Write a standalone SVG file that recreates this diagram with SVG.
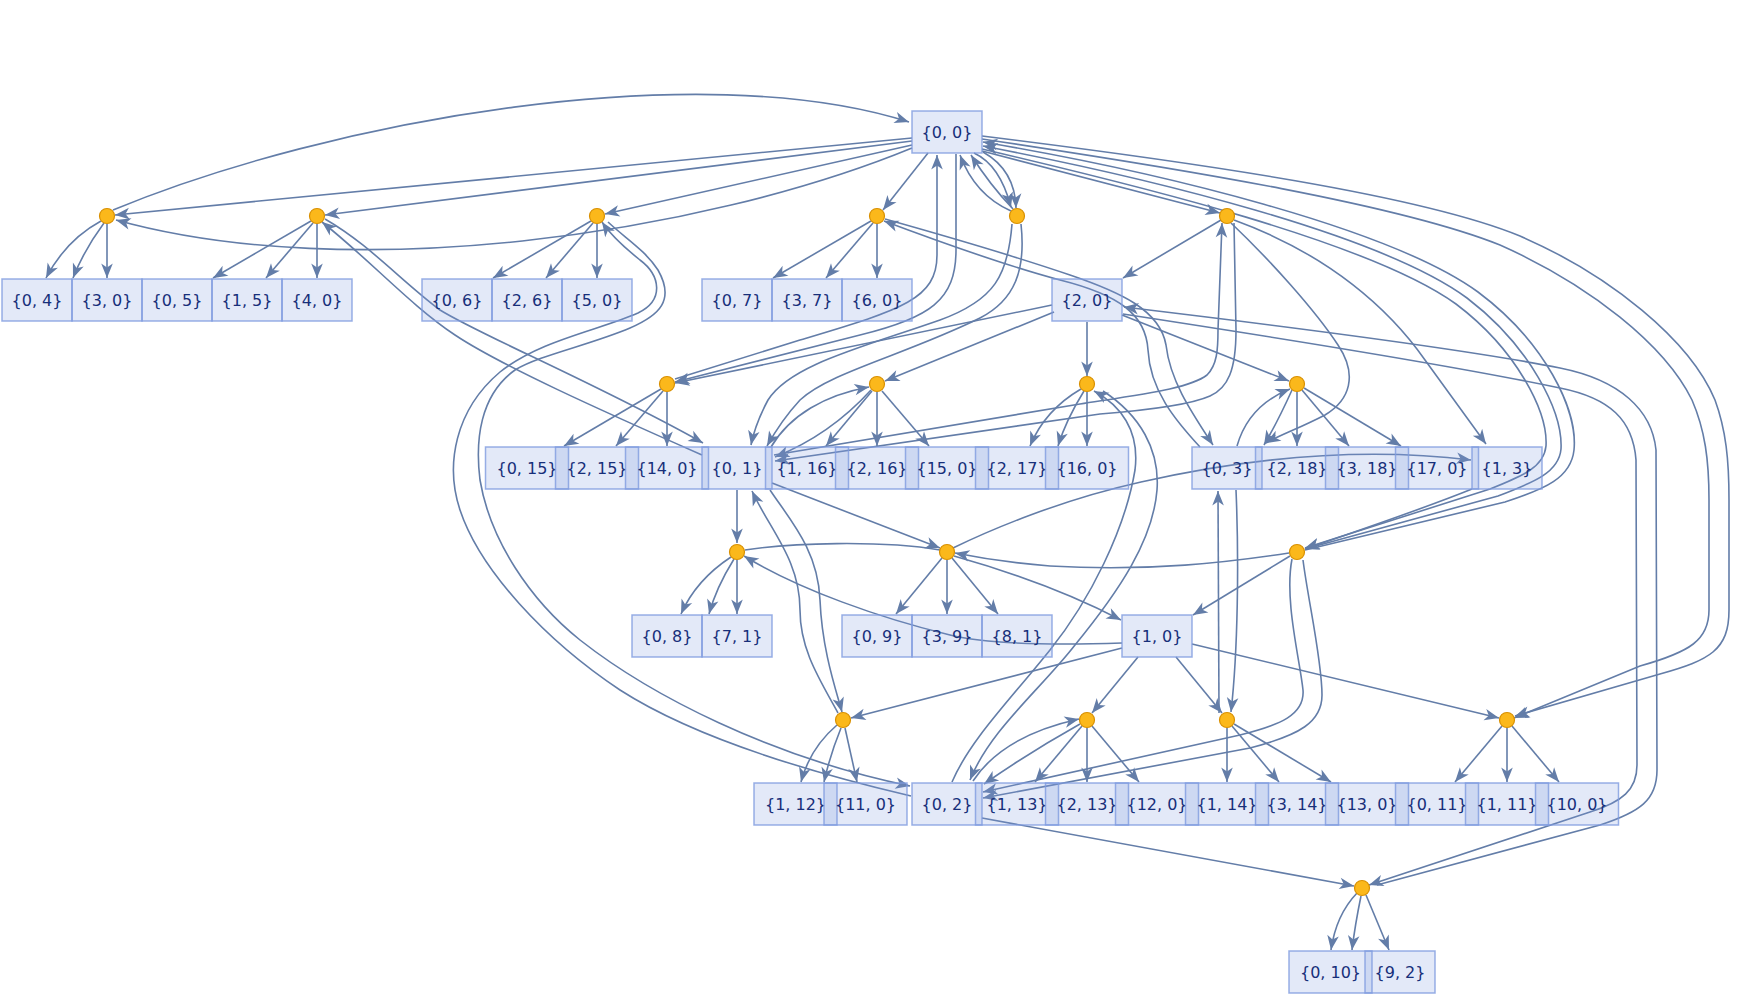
<svg xmlns="http://www.w3.org/2000/svg" width="1764" height="1006" viewBox="0 0 1764 1006">
<defs>
<style>
.e{fill:none;stroke:#637da8;stroke-width:1.6;marker-end:url(#a)}
.r{fill:none;stroke:#637da8;stroke-width:1.6;marker-start:url(#a)}
.n{fill:none;stroke:#637da8;stroke-width:1.6}
.b{fill:rgb(128,155,224);fill-opacity:0.22;stroke:#7f9be0;stroke-opacity:0.8;stroke-width:1.5}
.t{font-family:'DejaVu Sans','Noto Sans',sans-serif;font-size:16px;fill:#172f7a;text-anchor:middle}
.d{fill:#fbb81b;stroke:#d99000;stroke-width:1.2}
</style>
<marker id="a" markerUnits="userSpaceOnUse" markerWidth="18" markerHeight="14" viewBox="-16 -7 18 14" refX="0" refY="0" orient="auto-start-reverse" overflow="visible">
<path d="M0,0 L-14.5,-5.8 L-10.5,0 L-14.5,5.8 Z" fill="#637da8"/>
</marker>
</defs>
<rect width="1764" height="1006" fill="#ffffff"/>
<g id="edges">
<path class="e" d="M113,210 C330,120 700,55 909,122"/>
<path class="e" d="M912,138 L115,215"/>
<path class="e" d="M912,148 C700,235 350,285 116,220"/>
<path class="e" d="M912,141 L325,215"/>
<path class="e" d="M912,145 L605,214"/>
<path class="e" d="M928,153 L883,210"/>
<path class="e" d="M1011,211 Q975,195 960,155"/>
<path class="e" d="M1013,209 Q990,185 971,155"/>
<path class="e" d="M974,153 Q1000,165 1011,207"/>
<path class="e" d="M983,152 Q1015,170 1016,208"/>
<path class="e" d="M982,151 L1220,213"/>
<path class="e" d="M982,136 C1200,163 1420,195 1520,236 C1610,275 1690,340 1715,400 C1726,430 1729,460 1729,500 L1729,610 C1729,650 1710,660 1660,674 L1515,716"/>
<path class="e" d="M982,139 C1190,170 1400,205 1500,245 C1590,285 1665,345 1692,400 C1705,430 1709,460 1709,500 L1709,610 C1709,640 1690,652 1640,666 L1514,718"/>
<path class="r" d="M983,142 C1160,172 1390,228 1478,292 C1545,342 1578,410 1574,450 C1571,478 1545,489 1505,502 L1305,550"/>
<path class="r" d="M983,146 C1150,178 1380,234 1467,298 C1530,346 1563,412 1561,449 C1559,472 1535,482 1498,496 L1305,549"/>
<path class="e" d="M982,149 C1140,186 1370,242 1456,304 C1517,350 1548,412 1546,446 C1544,467 1523,476 1490,489 L1305,548"/>
<path class="e" d="M956,154 L956,250 C956,300 930,318 860,335 L675,382"/>
<path class="e" d="M675,379 L800,340 C900,310 937,300 937,255 L937,155"/>
<path class="e" d="M1052,305 L675,383"/>
<path class="e" d="M1054,312 L885,381"/>
<path class="e" d="M1087,322 L1087,376"/>
<path class="e" d="M1122,315 L1289,381"/>
<path class="r" d="M1124,307 C1300,328 1480,352 1560,368 C1620,380 1652,410 1656,450 L1657,770 C1657,800 1640,812 1600,825 L1377,885"/>
<path class="e" d="M1123,314 C1280,338 1450,365 1560,388 C1610,398 1633,420 1636,460 L1637,765 C1637,790 1622,802 1590,812 L1369,885"/>
<path class="e" d="M982,818 L1354,886"/>
<path class="e" d="M101,221 Q66,240 46,278"/>
<path class="e" d="M104,223 Q84,250 73,278"/>
<path class="e" d="M107,224 L107,278"/>
<path class="e" d="M311,221 L213,278"/>
<path class="e" d="M313,223 L266,278"/>
<path class="e" d="M317,224 L317,278"/>
<path class="e" d="M591,221 L493,278"/>
<path class="e" d="M593,223 L546,278"/>
<path class="e" d="M597,224 L597,278"/>
<path class="e" d="M871,221 L773,278"/>
<path class="e" d="M873,223 L826,278"/>
<path class="e" d="M877,224 L877,278"/>
<path class="e" d="M1221,220 L1123,278"/>
<path class="e" d="M1234,220 C1330,255 1390,310 1425,360 L1486,444"/>
<path class="e" d="M1231,223 C1270,260 1315,310 1338,345 C1358,375 1350,400 1325,415 C1300,428 1280,435 1266,443"/>
<path class="e" d="M774,455 L1080,404 C1150,393 1190,388 1207,375 C1217,365 1218,350 1218,330 L1222,223"/>
<path class="e" d="M1234,223 L1236,330 C1236,370 1228,388 1210,396 C1190,405 1150,410 1100,414 L775,461"/>
<path class="e" d="M1012,224 C1008,275 995,300 940,320 C860,348 790,365 768,400 C760,415 754,430 751,445"/>
<path class="e" d="M1021,224 C1026,270 1015,300 980,318 C905,355 830,372 800,400 C788,413 776,430 767,446"/>
<path class="e" d="M771,447 C790,415 825,395 869,387"/>
<path class="e" d="M871,390 Q830,435 775,457"/>
<path class="e" d="M872,391 L826,446"/>
<path class="e" d="M877,392 L877,446"/>
<path class="e" d="M882,391 L929,446"/>
<path class="e" d="M661,389 L564,446"/>
<path class="e" d="M663,391 L616,446"/>
<path class="e" d="M667,392 L667,446"/>
<path class="e" d="M702,455 C600,410 500,365 455,335 C410,305 370,260 322,222"/>
<path class="e" d="M325,219 C370,245 400,280 440,310 C480,335 600,385 703,443"/>
<path class="e" d="M911,796 C800,770 690,735 620,690 C545,640 480,570 460,510 C445,465 455,410 500,372 C540,340 600,330 638,313 C665,300 660,275 640,260 C625,248 610,234 602,222"/>
<path class="e" d="M608,222 C625,238 645,250 658,270 C675,300 660,315 630,328 C590,345 540,355 515,370 C480,395 475,440 480,480 C490,540 530,600 580,640 C650,695 770,757 910,786"/>
<path class="e" d="M1081,389 Q1045,410 1030,446"/>
<path class="e" d="M1084,391 Q1066,420 1058,446"/>
<path class="e" d="M1087,392 L1087,446"/>
<path class="e" d="M952,782 C970,740 1010,700 1050,650 C1090,600 1125,530 1135,470 C1140,430 1120,405 1094,391"/>
<path class="e" d="M1103,391 C1140,415 1160,450 1157,490 C1153,540 1120,590 1075,645 C1040,690 990,730 970,780"/>
<path class="e" d="M1080,724 Q1030,752 984,784"/>
<path class="e" d="M973,781 C990,755 1020,732 1079,719"/>
<path class="e" d="M1292,559 C1284,600 1300,660 1303,690 C1305,715 1280,725 1240,735 L983,792"/>
<path class="e" d="M1303,560 C1308,600 1322,660 1322,695 C1322,722 1300,735 1250,748 L983,798"/>
<path class="e" d="M1472,489 C1420,510 1360,530 1305,549"/>
<path class="e" d="M1290,556 L1193,615"/>
<path class="e" d="M1289,553 C1230,562 1150,572 1050,566 C1000,562 975,557 955,553"/>
<path class="e" d="M1122,643 C1060,645 990,645 950,635 C880,618 800,590 744,556"/>
<path class="n" d="M745,550 C790,543 880,540 940,550"/>
<path class="e" d="M953,548 C990,530 1060,500 1141,482 C1230,462 1350,445 1471,460"/>
<path class="e" d="M737,490 L737,543"/>
<path class="e" d="M772,483 L940,548"/>
<path class="e" d="M838,713 C820,680 800,650 800,610 C800,560 770,530 752,491"/>
<path class="e" d="M770,490 C790,520 818,550 820,600 C822,650 836,690 842,712"/>
<path class="e" d="M731,557 Q696,580 681,614"/>
<path class="e" d="M734,559 Q716,588 709,614"/>
<path class="e" d="M737,560 L737,614"/>
<path class="e" d="M942,558 L896,614"/>
<path class="e" d="M947,560 L947,614"/>
<path class="e" d="M952,558 L998,614"/>
<path class="e" d="M954,556 Q1050,583 1121,620"/>
<path class="e" d="M1122,648 L851,718"/>
<path class="e" d="M1138,657 L1092,713"/>
<path class="e" d="M1176,657 L1222,713"/>
<path class="e" d="M1192,644 L1499,718"/>
<path class="e" d="M1082,726 L1035,782"/>
<path class="e" d="M1087,728 L1087,782"/>
<path class="e" d="M1092,726 L1139,782"/>
<path class="e" d="M1227,728 L1227,782"/>
<path class="e" d="M1232,726 L1279,782"/>
<path class="e" d="M1234,724 L1331,782"/>
<path class="e" d="M1219,713 L1218,491"/>
<path class="e" d="M1236,490 C1239,560 1238,650 1231,712"/>
<path class="e" d="M1502,726 L1455,782"/>
<path class="e" d="M1507,728 L1507,782"/>
<path class="e" d="M1512,726 L1559,782"/>
<path class="e" d="M837,725 Q810,748 801,782"/>
<path class="e" d="M841,728 Q830,755 824,782"/>
<path class="e" d="M845,728 L857,782"/>
<path class="e" d="M1357,893 Q1336,915 1331,950"/>
<path class="e" d="M1361,896 Q1355,925 1352,950"/>
<path class="e" d="M1366,895 L1389,950"/>
<path class="e" d="M1237,446 C1245,418 1262,400 1290,389"/>
<path class="e" d="M1292,390 C1283,410 1274,428 1264,445"/>
<path class="e" d="M1297,392 L1297,446"/>
<path class="e" d="M1302,390 L1349,446"/>
<path class="e" d="M1304,388 L1401,446"/>
<path class="e" d="M885,219 C960,240 1020,258 1070,275 C1120,292 1160,310 1166,345 C1170,380 1190,410 1213,445"/>
<path class="e" d="M1200,447 C1175,420 1150,390 1148,350 C1146,315 1120,295 1060,280 C1000,264 940,242 884,221"/>
</g>
<g id="n00"><rect class="b" x="912" y="111" width="70" height="42"/><text class="t" x="947" y="138">{0, 0}</text></g>
<g id="n04"><rect class="b" x="2" y="279" width="70" height="42"/><text class="t" x="37" y="306">{0, 4}</text></g>
<g id="n30"><rect class="b" x="72" y="279" width="70" height="42"/><text class="t" x="107" y="306">{3, 0}</text></g>
<g id="n05"><rect class="b" x="142" y="279" width="70" height="42"/><text class="t" x="177" y="306">{0, 5}</text></g>
<g id="n15"><rect class="b" x="212" y="279" width="70" height="42"/><text class="t" x="247" y="306">{1, 5}</text></g>
<g id="n40"><rect class="b" x="282" y="279" width="70" height="42"/><text class="t" x="317" y="306">{4, 0}</text></g>
<g id="n06"><rect class="b" x="422" y="279" width="70" height="42"/><text class="t" x="457" y="306">{0, 6}</text></g>
<g id="n26"><rect class="b" x="492" y="279" width="70" height="42"/><text class="t" x="527" y="306">{2, 6}</text></g>
<g id="n50"><rect class="b" x="562" y="279" width="70" height="42"/><text class="t" x="597" y="306">{5, 0}</text></g>
<g id="n07"><rect class="b" x="702" y="279" width="70" height="42"/><text class="t" x="737" y="306">{0, 7}</text></g>
<g id="n37"><rect class="b" x="772" y="279" width="70" height="42"/><text class="t" x="807" y="306">{3, 7}</text></g>
<g id="n60"><rect class="b" x="842" y="279" width="70" height="42"/><text class="t" x="877" y="306">{6, 0}</text></g>
<g id="n20"><rect class="b" x="1052" y="279" width="70" height="42"/><text class="t" x="1087" y="306">{2, 0}</text></g>
<g id="n015"><rect class="b" x="485.5" y="447" width="83" height="42"/><text class="t" x="527" y="474">{0, 15}</text></g>
<g id="n215"><rect class="b" x="555.5" y="447" width="83" height="42"/><text class="t" x="597" y="474">{2, 15}</text></g>
<g id="n140"><rect class="b" x="625.5" y="447" width="83" height="42"/><text class="t" x="667" y="474">{14, 0}</text></g>
<g id="n01"><rect class="b" x="702" y="447" width="70" height="42"/><text class="t" x="737" y="474">{0, 1}</text></g>
<g id="n116"><rect class="b" x="765.5" y="447" width="83" height="42"/><text class="t" x="807" y="474">{1, 16}</text></g>
<g id="n216"><rect class="b" x="835.5" y="447" width="83" height="42"/><text class="t" x="877" y="474">{2, 16}</text></g>
<g id="n150"><rect class="b" x="905.5" y="447" width="83" height="42"/><text class="t" x="947" y="474">{15, 0}</text></g>
<g id="n217"><rect class="b" x="975.5" y="447" width="83" height="42"/><text class="t" x="1017" y="474">{2, 17}</text></g>
<g id="n160"><rect class="b" x="1045.5" y="447" width="83" height="42"/><text class="t" x="1087" y="474">{16, 0}</text></g>
<g id="n03"><rect class="b" x="1192" y="447" width="70" height="42"/><text class="t" x="1227" y="474">{0, 3}</text></g>
<g id="n218"><rect class="b" x="1255.5" y="447" width="83" height="42"/><text class="t" x="1297" y="474">{2, 18}</text></g>
<g id="n318"><rect class="b" x="1325.5" y="447" width="83" height="42"/><text class="t" x="1367" y="474">{3, 18}</text></g>
<g id="n170"><rect class="b" x="1395.5" y="447" width="83" height="42"/><text class="t" x="1437" y="474">{17, 0}</text></g>
<g id="n13"><rect class="b" x="1472" y="447" width="70" height="42"/><text class="t" x="1507" y="474">{1, 3}</text></g>
<g id="n08"><rect class="b" x="632" y="615" width="70" height="42"/><text class="t" x="667" y="642">{0, 8}</text></g>
<g id="n71"><rect class="b" x="702" y="615" width="70" height="42"/><text class="t" x="737" y="642">{7, 1}</text></g>
<g id="n09"><rect class="b" x="842" y="615" width="70" height="42"/><text class="t" x="877" y="642">{0, 9}</text></g>
<g id="n39"><rect class="b" x="912" y="615" width="70" height="42"/><text class="t" x="947" y="642">{3, 9}</text></g>
<g id="n81"><rect class="b" x="982" y="615" width="70" height="42"/><text class="t" x="1017" y="642">{8, 1}</text></g>
<g id="n10"><rect class="b" x="1122" y="615" width="70" height="42"/><text class="t" x="1157" y="642">{1, 0}</text></g>
<g id="n112"><rect class="b" x="754" y="783" width="83" height="42"/><text class="t" x="795.5" y="810">{1, 12}</text></g>
<g id="n110"><rect class="b" x="824" y="783" width="83" height="42"/><text class="t" x="865.5" y="810">{11, 0}</text></g>
<g id="n02"><rect class="b" x="912" y="783" width="70" height="42"/><text class="t" x="947" y="810">{0, 2}</text></g>
<g id="n113"><rect class="b" x="975.5" y="783" width="83" height="42"/><text class="t" x="1017" y="810">{1, 13}</text></g>
<g id="n213"><rect class="b" x="1045.5" y="783" width="83" height="42"/><text class="t" x="1087" y="810">{2, 13}</text></g>
<g id="n120"><rect class="b" x="1115.5" y="783" width="83" height="42"/><text class="t" x="1157" y="810">{12, 0}</text></g>
<g id="n114"><rect class="b" x="1185.5" y="783" width="83" height="42"/><text class="t" x="1227" y="810">{1, 14}</text></g>
<g id="n314"><rect class="b" x="1255.5" y="783" width="83" height="42"/><text class="t" x="1297" y="810">{3, 14}</text></g>
<g id="n130"><rect class="b" x="1325.5" y="783" width="83" height="42"/><text class="t" x="1367" y="810">{13, 0}</text></g>
<g id="n011"><rect class="b" x="1395.5" y="783" width="83" height="42"/><text class="t" x="1437" y="810">{0, 11}</text></g>
<g id="n111"><rect class="b" x="1465.5" y="783" width="83" height="42"/><text class="t" x="1507" y="810">{1, 11}</text></g>
<g id="n100"><rect class="b" x="1535.5" y="783" width="83" height="42"/><text class="t" x="1577" y="810">{10, 0}</text></g>
<g id="n010"><rect class="b" x="1289" y="951" width="83" height="42"/><text class="t" x="1330.5" y="978">{0, 10}</text></g>
<g id="n92"><rect class="b" x="1365" y="951" width="70" height="42"/><text class="t" x="1400" y="978">{9, 2}</text></g>
<g id="evA"><circle class="d" cx="107" cy="216" r="7.5"/></g>
<g id="evB"><circle class="d" cx="317" cy="216" r="7.5"/></g>
<g id="evC"><circle class="d" cx="597" cy="216" r="7.5"/></g>
<g id="evD"><circle class="d" cx="877" cy="216" r="7.5"/></g>
<g id="evE"><circle class="d" cx="1017" cy="216" r="7.5"/></g>
<g id="evF"><circle class="d" cx="1227" cy="216" r="7.5"/></g>
<g id="evG"><circle class="d" cx="667" cy="384" r="7.5"/></g>
<g id="evH"><circle class="d" cx="877" cy="384" r="7.5"/></g>
<g id="evI"><circle class="d" cx="1087" cy="384" r="7.5"/></g>
<g id="evJ"><circle class="d" cx="1297" cy="384" r="7.5"/></g>
<g id="evK"><circle class="d" cx="737" cy="552" r="7.5"/></g>
<g id="evL"><circle class="d" cx="947" cy="552" r="7.5"/></g>
<g id="evM"><circle class="d" cx="1297" cy="552" r="7.5"/></g>
<g id="evN"><circle class="d" cx="843" cy="720" r="7.5"/></g>
<g id="evO"><circle class="d" cx="1087" cy="720" r="7.5"/></g>
<g id="evP"><circle class="d" cx="1227" cy="720" r="7.5"/></g>
<g id="evQ"><circle class="d" cx="1507" cy="720" r="7.5"/></g>
<g id="evR"><circle class="d" cx="1362" cy="888" r="7.5"/></g>
</svg>
